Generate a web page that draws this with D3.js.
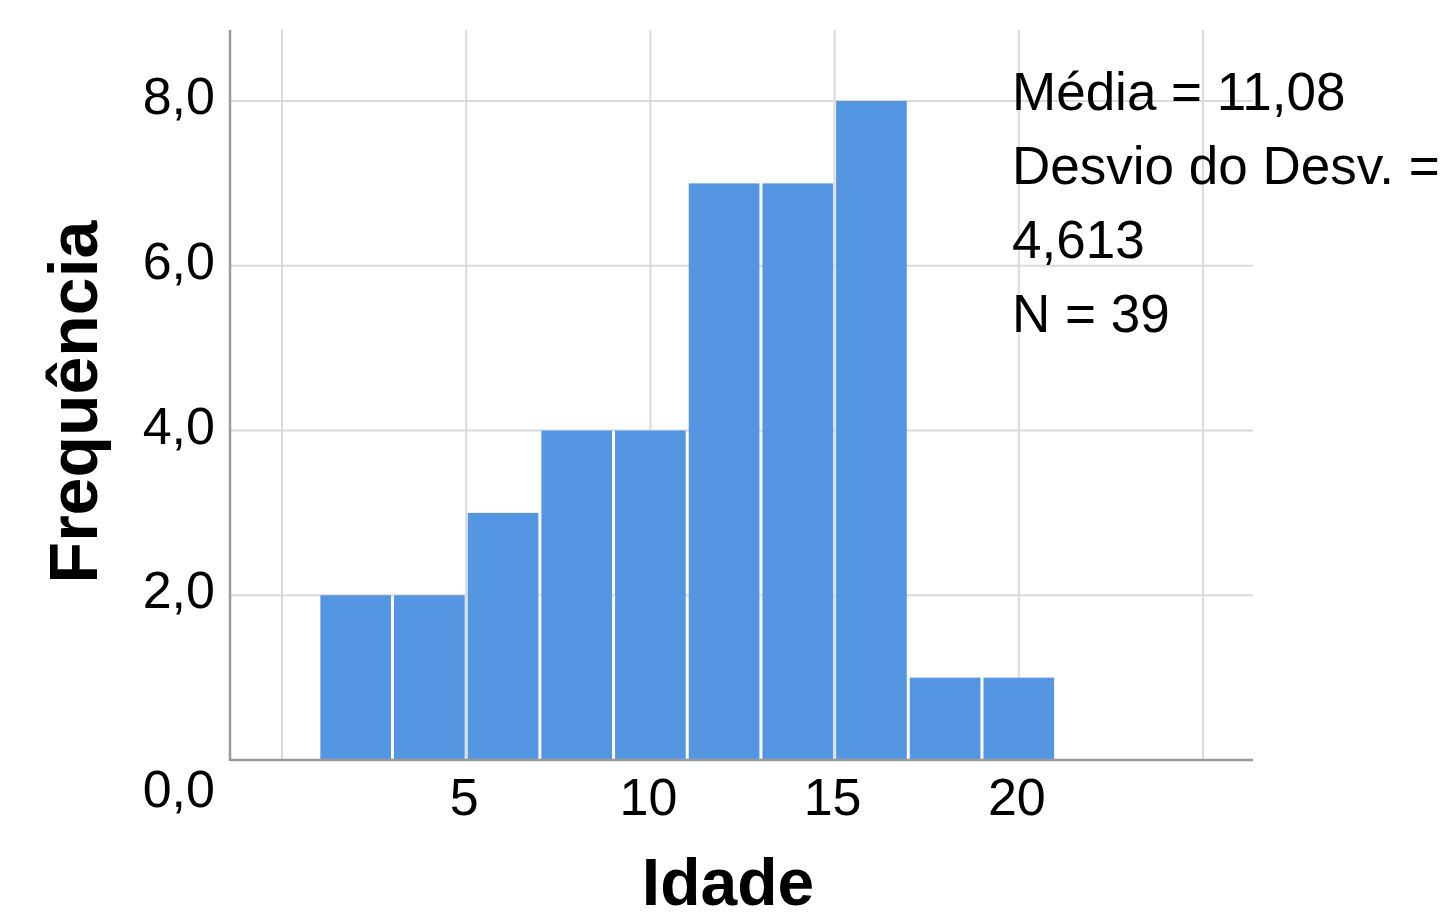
<!DOCTYPE html>
<html>
<head>
<meta charset="utf-8">
<script src="https://cdn.jsdelivr.net/npm/d3@7"></script>
<style>
  body { margin: 0; background: #fff; }
  text { font-family: "Liberation Sans", Arial, sans-serif; }
</style>
</head>
<body>
<div id="vis"></div>
<script>
// histogram bins (Idade) and counts
const binStarts = [1, 3, 5, 7, 9, 11, 13, 15, 17, 19]
const binWidth = 2
const counts = [2, 2, 3, 4, 4, 7, 7, 8, 1, 1]
const xTicks = [5, 10, 15, 20]
const xGrid = [0, 5, 10, 15, 20, 25]
const yTicks = [0, 2, 4, 6, 8]
const statsLines = ["Média = 11,08", "Desvio do Desv. =", "4,613", "N = 39"]

const width = 1443
const height = 921

// plot frame
const plotLeft = 230, plotRight = 1253, plotTop = 30, plotBottom = 760

const svg = d3.select("#vis")
  .append("svg")
  .attr("width", width)
  .attr("height", height)

const x = d3.scaleLinear().domain([0, 25]).range([282, 1203])
const y = d3.scaleLinear().domain([0, 8]).range([plotBottom, 101])

const grid = svg.append("g")
  .attr("stroke", "#dadada")
  .attr("stroke-width", 2)

// vertical grid
grid.selectAll("line.v")
  .data(xGrid)
  .enter()
  .append("line")
    .attr("x1", d => x(d))
    .attr("x2", d => x(d))
    .attr("y1", plotTop)
    .attr("y2", plotBottom)

// horizontal grid
grid.selectAll("line.h")
  .data(yTicks.filter(d => d > 0))
  .enter()
  .append("line")
    .attr("x1", plotLeft)
    .attr("x2", plotRight)
    .attr("y1", d => y(d))
    .attr("y2", d => y(d))

// bars
svg.append("g")
  .selectAll("rect")
  .data(binStarts)
  .enter()
  .append("rect")
    .attr("x", d => x(d) + 1.5)
    .attr("width", d => x(d + binWidth) - x(d) - 3)
    .attr("y", (d, i) => y(counts[i]))
    .attr("height", (d, i) => y(0) - y(counts[i]))
    .attr("fill", "#5596e2")

// axis lines
svg.append("line")
  .attr("x1", plotLeft).attr("x2", plotLeft)
  .attr("y1", plotTop).attr("y2", plotBottom + 1)
  .attr("stroke", "#9a9a9a")
  .attr("stroke-width", 2.5)
svg.append("line")
  .attr("x1", plotLeft).attr("x2", plotRight)
  .attr("y1", plotBottom).attr("y2", plotBottom)
  .attr("stroke", "#9a9a9a")
  .attr("stroke-width", 2.5)

// y tick labels
svg.selectAll("text.ytick")
  .data(yTicks)
  .enter()
  .append("text")
    .attr("x", 215)
    .attr("y", d => d === 0 ? y(d) + 47 : y(d) + 13)
    .attr("text-anchor", "end")
    .style("font-size", "52px")
    .text(d => d3.format(".1f")(d).replace(".", ","))

// x tick labels
svg.selectAll("text.xtick")
  .data(xTicks)
  .enter()
  .append("text")
    .attr("x", d => x(d) - 2)
    .attr("y", 815)
    .attr("text-anchor", "middle")
    .style("font-size", "52px")
    .text(d => d)

// axis titles
svg.append("text")
  .attr("x", 728)
  .attr("y", 905)
  .attr("text-anchor", "middle")
  .style("font-size", "66px")
  .style("font-weight", "bold")
  .text("Idade")

svg.append("text")
  .attr("transform", "translate(97,402) rotate(-90)")
  .attr("text-anchor", "middle")
  .style("font-size", "68px")
  .style("font-weight", "bold")
  .text("Frequência")

// stats box
svg.selectAll("text.stat")
  .data(statsLines)
  .enter()
  .append("text")
    .attr("x", 1012)
    .attr("y", (d, i) => 110 + i * 74)
    .style("font-size", "53px")
    .text(d => d)
</script>
</body>
</html>
